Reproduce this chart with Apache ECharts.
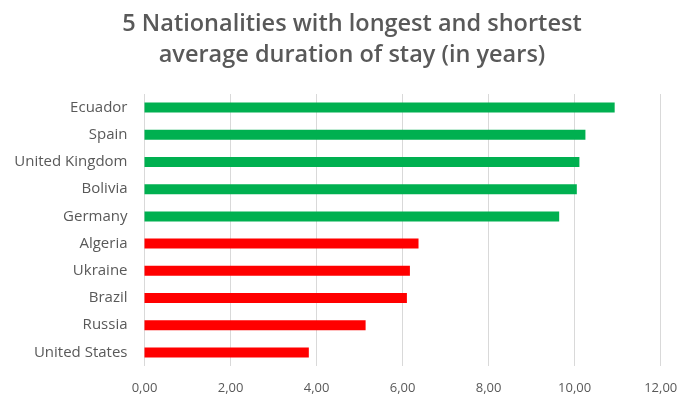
<!DOCTYPE html>
<html>
<head>
<meta charset="utf-8">
<script src="https://cdn.jsdelivr.net/npm/echarts@6/dist/echarts.min.js"></script>
<style>
  html, body { margin: 0; padding: 0; background: #fff; }
  #chart { width: 681px; height: 398px; }
</style>
</head>
<body>
<div id="chart"></div>
<script>
// Nationalities listed top to bottom
const countries = ['Ecuador', 'Spain', 'United Kingdom', 'Bolivia', 'Germany',
                   'Algeria', 'Ukraine', 'Brazil', 'Russia', 'United States'];
// Average duration of stay, in years
const years = [10.93, 10.25, 10.11, 10.05, 9.64, 6.37, 6.17, 6.10, 5.14, 3.82];
// Which group each nationality belongs to
const groups = ['longest', 'longest', 'longest', 'longest', 'longest',
                'shortest', 'shortest', 'shortest', 'shortest', 'shortest'];
const groupColors = { longest: '#00B050', shortest: '#FF0000' };
const xTicks = [0, 2, 4, 6, 8, 10, 12];

const chart = echarts.init(document.getElementById('chart'), null, { renderer: 'canvas' });

const textColor = '#595959';
const font = '"Open Sans", "Noto Sans", sans-serif';

chart.setOption({
  animation: false,
  backgroundColor: '#ffffff',
  title: {
    text: '5 Nationalities with longest and shortest\naverage duration of stay (in years)',
    left: 347,
    textAlign: 'center',
    top: 4,
    textStyle: {
      fontFamily: font,
      fontSize: 23.5,
      fontWeight: 600,
      color: textColor,
      lineHeight: 31
    }
  },
  grid: { left: 144.5, right: 20.3, top: 94, bottom: 32, containLabel: false },
  xAxis: {
    type: 'value',
    min: xTicks[0],
    max: xTicks[xTicks.length - 1],
    interval: xTicks[1] - xTicks[0],
    axisLine: { show: false },
    axisTick: { show: false },
    splitLine: { show: true, lineStyle: { color: '#d9d9d9', width: 1 } },
    axisLabel: {
      color: textColor,
      fontFamily: font,
      fontSize: 13,
      margin: 16,
      formatter: v => v.toFixed(2).replace('.', ',')
    }
  },
  yAxis: {
    type: 'category',
    data: countries,
    inverse: true,
    axisLine: { show: false },
    axisTick: { show: false },
    axisLabel: {
      color: textColor,
      fontFamily: font,
      fontSize: 15,
      margin: 17
    }
  },
  series: [{
    type: 'bar',
    barWidth: 10,
    data: years.map((v, i) => ({ value: v, itemStyle: { color: groupColors[groups[i]] } }))
  }]
});
</script>
</body>
</html>
